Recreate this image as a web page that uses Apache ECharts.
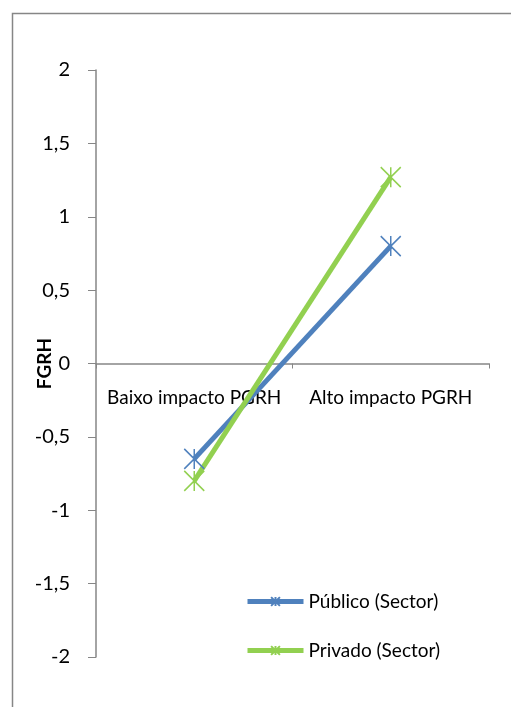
<!DOCTYPE html>
<html><head><meta charset="utf-8">
<script src="https://cdn.jsdelivr.net/npm/echarts@6/dist/echarts.min.js"></script>
<style>html,body{margin:0;padding:0;background:#fff}#c{width:511px;height:707px}</style>
</head><body><div id="c"></div>
<script>
const categories = ['Baixo impacto PGRH', 'Alto impacto PGRH'];
const publico = [-0.65, 0.80];
const privado = [-0.80, 1.27];
const seriesNames = ['Público (Sector)', 'Privado (Sector)'];
const yTicks = { min: -2, max: 2, interval: 0.5 };
const yName = 'FGRH';

const FONT = 'Lato, "Liberation Sans", sans-serif';
const star = 'path://M0,0L10,10M10,0L0,10M5,0L5,10';
const GRID_TOP = 70, GRID_BOTTOM = 50, H = 707;
const zeroOffset = -((H - GRID_TOP - GRID_BOTTOM) * (0 - yTicks.min) / (yTicks.max - yTicks.min));
const chart = echarts.init(document.getElementById('c'), null, { renderer: 'canvas' });
chart.setOption({
  animation: false,
  backgroundColor: '#fff',
  textStyle: { fontFamily: FONT },
  graphic: [{ type: 'rect', shape: { x: 12.5, y: 13.5, width: 600, height: 800 }, style: { fill: 'none', stroke: '#868686', lineWidth: 1.5 }, silent: true, z: -1 }],
  grid: { left: 96, right: 22, top: GRID_TOP, bottom: GRID_BOTTOM, containLabel: false },
  legend: {
    orient: 'vertical', left: 245, top: 592, padding: 0, itemWidth: 56, itemHeight: 11, itemGap: 30,
    textStyle: { fontSize: 19, color: '#000', fontFamily: FONT },
    lineStyle: { width: 5 },
    data: seriesNames
  },
  xAxis: {
    type: 'category', data: categories, boundaryGap: true, offset: zeroOffset,
    axisLine: { onZero: false, lineStyle: { color: '#868686', width: 1.5 } },
    axisTick: { show: true, inside: false, length: 5, alignWithLabel: false, lineStyle: { color: '#868686' } },
    axisLabel: { fontSize: 19, color: '#000', margin: 25, fontFamily: FONT, interval: 0, hideOverlap: false }
  },
  yAxis: {
    type: 'value', min: yTicks.min, max: yTicks.max, interval: yTicks.interval,
    name: yName, nameLocation: 'middle', nameGap: 42, nameRotate: 90, nameMoveOverlap: false,
    nameTextStyle: { fontSize: 19, fontWeight: 'bold', color: '#000', fontFamily: FONT },
    splitLine: { show: false },
    axisLine: { show: true, onZero: false, lineStyle: { color: '#868686', width: 1.5 } },
    axisTick: { show: true, length: 8, lineStyle: { color: '#868686' } },
    axisLabel: { fontSize: 20, color: '#000', margin: 26, fontFamily: FONT,
      formatter: v => String(v).replace('.', ',') }
  },
  series: [
    { name: seriesNames[0], type: 'line', data: publico, symbol: star, symbolSize: 20,
      lineStyle: { color: '#4F81BD', width: 5 },
      itemStyle: { color: '#4F81BD', borderColor: '#4F81BD', borderWidth: 1.5 } },
    { name: seriesNames[1], type: 'line', data: privado, symbol: star, symbolSize: 20,
      lineStyle: { color: '#92D050', width: 5 },
      itemStyle: { color: '#92D050', borderColor: '#92D050', borderWidth: 1.5 } }
  ]
});
</script></body></html>
